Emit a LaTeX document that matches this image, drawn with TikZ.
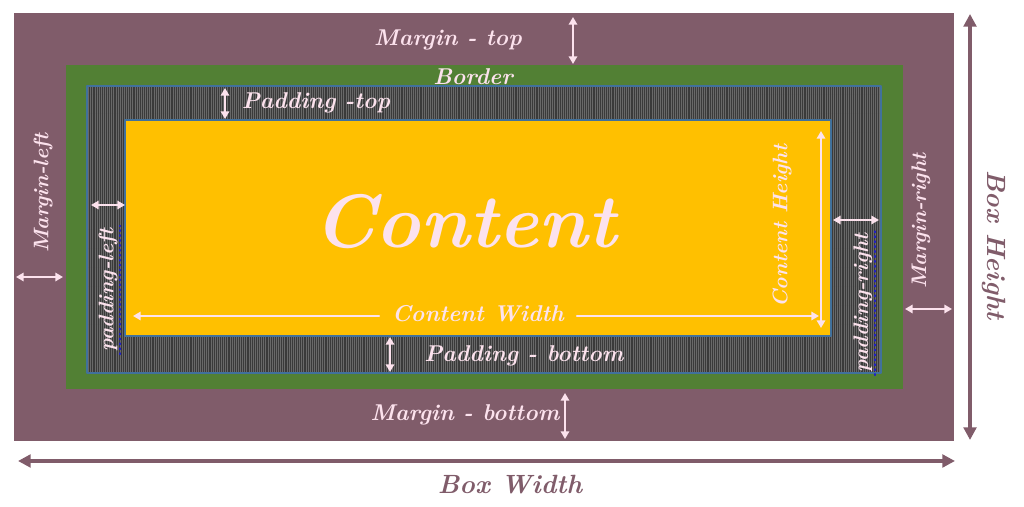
\documentclass[tikz,border=0pt]{standalone}
\usepackage{pgf,tikz}
\usepackage{color}
\usetikzlibrary{arrows.meta}
\usetikzlibrary{patterns.meta}
\definecolor{boxmauve}{RGB}{128,92,106}
\definecolor{bordergreen}{RGB}{82,128,52}
\definecolor{contentyellow}{RGB}{255,192,0}
\definecolor{labelpink}{RGB}{252,226,237}
\definecolor{paddark}{RGB}{58,58,58}
\definecolor{padstripe}{RGB}{105,105,105}
\definecolor{edgeblue}{RGB}{65,113,156}
\definecolor{inkblue}{RGB}{30,30,200}
\tikzset{
  lbl/.style={text=labelpink,font=\fontsize{6.5}{8}\selectfont\bfseries\itshape,inner sep=0.5pt},
  sidelbl/.style={lbl,font=\fontsize{6}{7}\selectfont\bfseries\itshape},
  boxlbl/.style={text=boxmauve,font=\fontsize{7.5}{9}\selectfont\bfseries\itshape,inner sep=0.5pt},
  gaparrow/.style={<->,>={Triangle[length=2.2pt,width=2.4pt]},draw=labelpink,line width=0.6pt},
  boxarrow/.style={<->,>={Triangle[length=3.6pt,width=3.6pt]},draw=boxmauve,line width=1.2pt}
}
\begin{document}
\begin{tikzpicture}[line cap=round,line join=round,x=0.01cm,y=-0.01cm]
\useasboundingbox (0,0) rectangle (1024,507);
\fill[boxmauve] (14,13) rectangle (954,441);
\fill[bordergreen] (66,65) rectangle (903,389);
\fill[paddark] (87,86) rectangle (881,373);
\fill[pattern={Lines[angle=90,distance=0.6pt,line width=0.25pt]},pattern color=padstripe] (87,86) rectangle (881,373);
\draw[edgeblue,line width=0.3pt] (87,86) rectangle (881,373);
\filldraw[fill=contentyellow,draw=edgeblue,line width=0.3pt] (125,120) rectangle (831,336);
\node (content) at (465,222) {\textcolor{labelpink}{\fontsize{21.5}{24}\selectfont\bfseries\itshape Content}};
\node[lbl] (mtoplbl) at (448,40) {Margin - top};
\node[lbl] (borderlbl) at (473,77) {Border};
\node[lbl] (ptoplbl) at (316,103) {Padding -top};
\node[lbl] (cwlbl) at (478,314) {Content Width};
\node[lbl] (pbottomlbl) at (524,356) {Padding - bottom};
\node[lbl] (mbottomlbl) at (465,415) {Margin - bottom};
\node[sidelbl,rotate=90] (mleftlbl) at (43,193) {Margin-left};
\node[sidelbl,rotate=90] (pleftlbl) at (108,290) {padding-left};
\node[sidelbl,rotate=90] (chlbl) at (782,226) {Content Height};
\node[sidelbl,rotate=90] (prightlbl) at (863,303) {padding-right};
\node[sidelbl,rotate=90] (mrightlbl) at (921,221) {Margin-right};
\node[boxlbl,rotate=-90] (bhlbl) at (994,245) {Box Height};
\node[boxlbl] (bwlbl) at (510,485) {Box Width};
\draw[inkblue,line width=0.4pt,densely dotted] (pleftlbl.south west) -- (pleftlbl.south east);
\draw[inkblue,line width=0.4pt,densely dotted] (prightlbl.south west) -- (prightlbl.south east);
\coordinate (mtopa) at (573,17);
\coordinate (mtopb) at (573,64);
\coordinate (ptopa) at (225,88);
\coordinate (ptopb) at (225,119);
\coordinate (mlefta) at (16,277);
\coordinate (mleftb) at (63,277);
\coordinate (plefta) at (91,205);
\coordinate (pleftb) at (125,205);
\coordinate (cwa) at (133,316);
\coordinate (cwb) at (819,316);
\coordinate (cha) at (821,131);
\coordinate (chb) at (821,328);
\coordinate (prighta) at (833,220);
\coordinate (prightb) at (879,220);
\coordinate (mrighta) at (905,309);
\coordinate (mrightb) at (952,309);
\coordinate (pbottoma) at (390,337);
\coordinate (pbottomb) at (390,372);
\coordinate (mbottoma) at (565,393);
\coordinate (mbottomb) at (565,439);
\coordinate (bha) at (970,14);
\coordinate (bhb) at (970,440);
\coordinate (bwa) at (18,461);
\coordinate (bwb) at (955,461);
\draw[gaparrow] (mtopa) -- (mtopb);
\draw[gaparrow] (ptopa) -- (ptopb);
\draw[gaparrow] (mlefta) -- (mleftb);
\draw[gaparrow] (plefta) -- (pleftb);
\draw[gaparrow,<-] (cwa) -- ([xshift=-3pt]cwlbl.west |- cwa);
\draw[gaparrow,->] ([xshift=3pt]cwlbl.east |- cwb) -- (cwb);
\draw[gaparrow] (cha) -- (chb);
\draw[gaparrow] (prighta) -- (prightb);
\draw[gaparrow] (mrighta) -- (mrightb);
\draw[gaparrow] (pbottoma) -- (pbottomb);
\draw[gaparrow] (mbottoma) -- (mbottomb);
\draw[boxarrow] (bha) -- (bhb);
\draw[boxarrow] (bwa) -- (bwb);
\end{tikzpicture}
\end{document}
